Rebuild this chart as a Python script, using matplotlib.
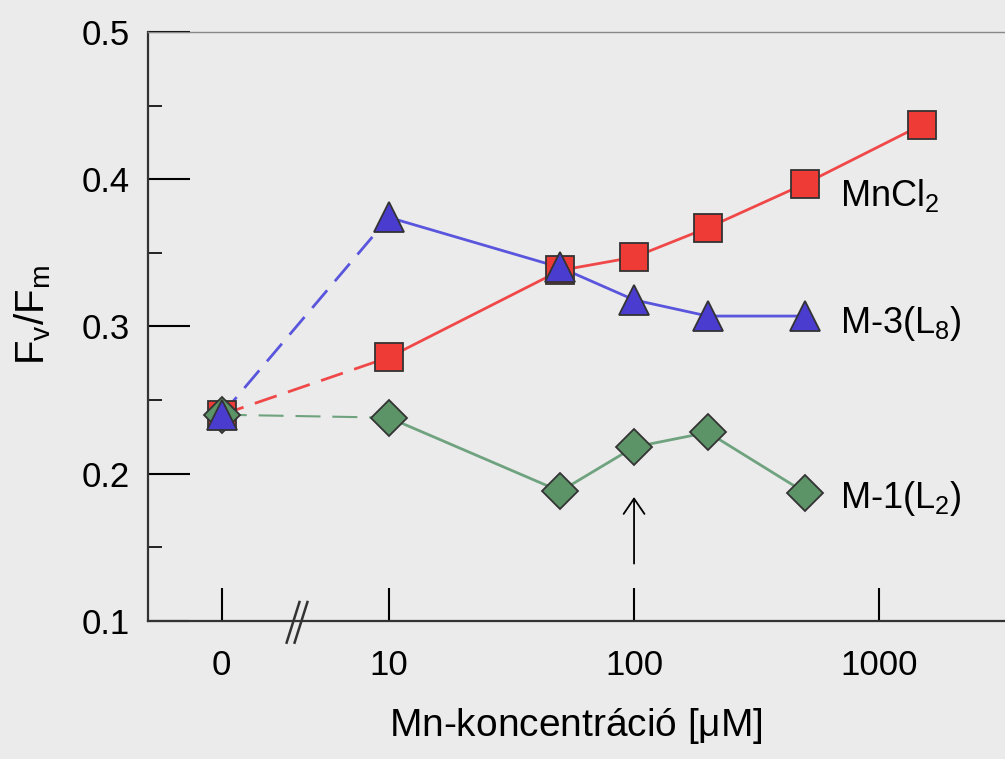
import numpy as np
import matplotlib
matplotlib.use("Agg")
import matplotlib.pyplot as plt

plt.rcParams["font.family"] = ["Liberation Sans", "DejaVu Sans"]
plt.rcParams["mathtext.fontset"] = "custom"
plt.rcParams["mathtext.rm"] = "Liberation Sans"
plt.rcParams["mathtext.it"] = "Liberation Sans"

# concentrations in uM; 0 is drawn at a stand-in position left of the axis break
conc_mncl2 = [0, 10, 50, 100, 200, 500, 1500]
fvfm_mncl2 = [0.240, 0.279, 0.338, 0.347, 0.367, 0.397, 0.437]

conc_m3 = [0, 10, 50, 100, 200, 500]
fvfm_m3 = [0.240, 0.374, 0.340, 0.318, 0.307, 0.307]

conc_m1 = [0, 10, 50, 100, 200, 500]
fvfm_m1 = [0.240, 0.238, 0.188, 0.218, 0.228, 0.187]

ZERO_POS = 2.08
x_ticks = [0, 10, 100, 1000]
x_tick_labels = ["0", "10", "100", "1000"]

BG = "#ebebeb"


def xpos(c):
    return [ZERO_POS if v == 0 else v for v in c]


fig = plt.figure(figsize=(10.05, 7.59), dpi=100, facecolor=BG)
ax = fig.add_axes([0.147, 0.182, 0.853, 0.776], facecolor=BG)
ax.set_xscale("log")
ax.set_xlim(1.038, 3260)
ax.set_ylim(0.1, 0.5)

# drawing order matches the reference: squares below, triangles on top
series = [
    (conc_mncl2, fvfm_mncl2, "s", 20, "#ee3b36", "#f04848", (0, (8.3, 4.3)), 2.0),
    (conc_m1, fvfm_m1, "D", 18.5, "#5c9468", "#6fa27e", (0, (12, 5.7)), 1.5),
    (conc_m3, fvfm_m3, "^", 21, "#4a3ccf", "#5a55dd", (0, (8.3, 4.3)), 2.0),
]

for conc, vals, mk, ms, fc, lc, dash, dlw in series:
    xs = xpos(conc)
    # dashed bridge across the axis break
    ax.plot(xs[:2], vals[:2], color=lc, linestyle=dash, linewidth=dlw, zorder=2)
    ax.plot(xs[1:], vals[1:], color=lc, linewidth=2.0, zorder=2)

for i, (conc, vals, mk, ms, fc, lc, dash, dlw) in enumerate(series):
    ax.plot(xpos(conc), vals, linestyle="none", marker=mk, markersize=ms,
            markerfacecolor=fc, markeredgecolor="#333333", markeredgewidth=1.3,
            zorder=3 + i)

# series labels
ax.text(690, 0.389, "MnCl$_2$", fontsize=26, va="center", ha="left")
ax.text(690, 0.302, "M-3(L$_8$)", fontsize=26, va="center", ha="left")
ax.text(690, 0.183, "M-1(L$_2$)", fontsize=26, va="center", ha="left")

# arrow at 100 uM
ax.annotate("", xy=(100, 0.186), xytext=(100, 0.137),
            arrowprops=dict(arrowstyle="->,head_length=1.1,head_width=0.75",
                            color="black", linewidth=1.3))

# ticks
ax.set_xticks(xpos(x_ticks))
ax.set_xticklabels(x_tick_labels)
ax.xaxis.set_minor_locator(matplotlib.ticker.NullLocator())
ax.set_yticks([0.1, 0.2, 0.3, 0.4, 0.5])
ax.set_yticklabels(["0.1", "0.2", "0.3", "0.4", "0.5"])
ax.set_yticks([0.15, 0.25, 0.35, 0.45], minor=True)
ax.tick_params(axis="x", direction="in", length=24, width=1.5, pad=20,
               labelsize=25, top=False)
ax.tick_params(axis="y", which="major", direction="in", length=30, width=1.5,
               pad=13, labelsize=25, right=False)
ax.tick_params(axis="y", which="minor", direction="in", length=10, width=1.2,
               right=False)

for s in ["left", "bottom"]:
    ax.spines[s].set_linewidth(1.6)
    ax.spines[s].set_color("#333333")
ax.spines["top"].set_color("#888888")
ax.spines["top"].set_linewidth(1.0)
ax.spines["right"].set_visible(False)

# axis break marks
for dx in (0.0, 0.0093):
    ax.plot([0.162 + dx, 0.177 + dx], [-0.037, 0.032], transform=ax.transAxes,
            color="#333333", linewidth=1.8, clip_on=False)

ax.set_ylabel("F$_v$/F$_m$", fontsize=29)
ax.yaxis.set_label_coords(-0.11, 0.52)
ax.set_xlabel("Mn-koncentráció [$\\mu$M]", fontsize=28)
ax.xaxis.set_label_coords(0.5, -0.145)

fig.savefig("out.png", dpi=100, facecolor=BG)
